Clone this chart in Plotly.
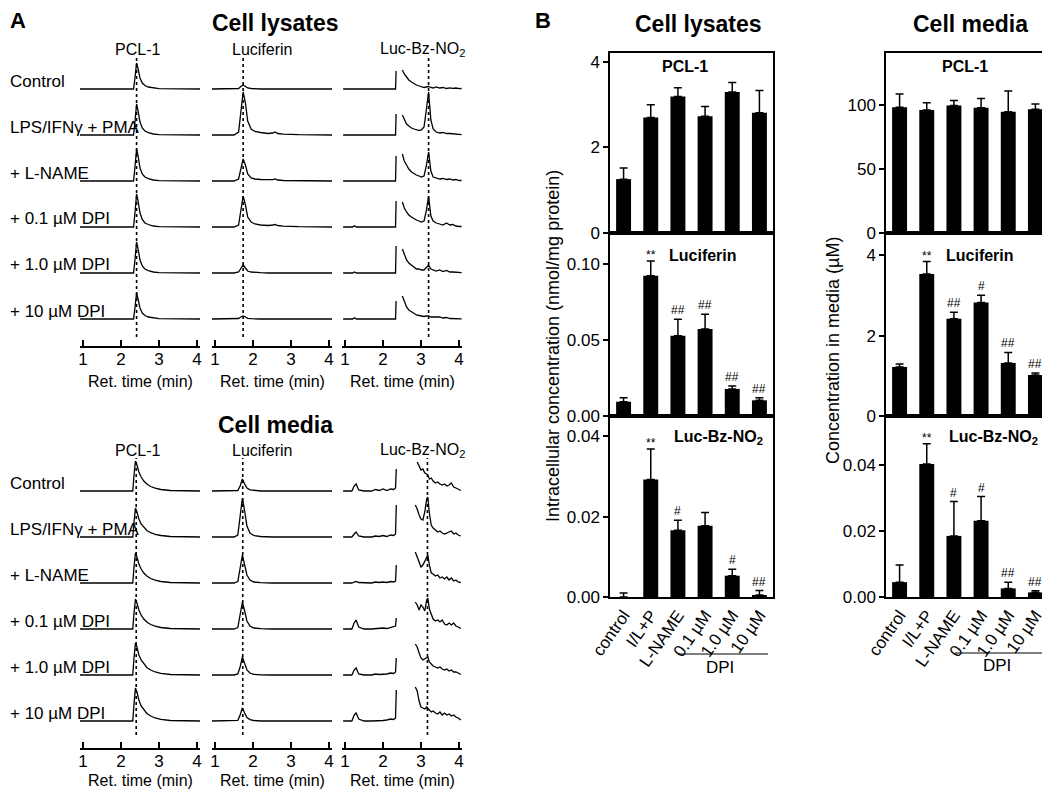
import plotly.graph_objects as go

W, H = 1050, 790
OX, OY = 8, 8  # page body margin offset
FONT = "Liberation Sans, Arial, sans-serif"

# ---------------- Panel A data (signal heights) ----------------
conditions = ["Control", "LPS/IFNγ + PMA", "+ L-NAME", "+ 0.1 µM DPI", "+ 1.0 µM DPI", "+ 10 µM DPI"]
analytes_A = ["PCL-1", "Luciferin", "Luc-Bz-NO<sub>2</sub>"]
time_ticks = [1, 2, 3, 4]
rt_lysates = [2.41, 1.74, 3.20]
rt_media = [2.40, 1.73, 3.17]

# Cell lysates - PCL-1
lys_pcl_t = [0.92, 2.0, 2.33, 2.37, 2.41, 2.45, 2.5, 2.56, 2.63, 2.72, 2.85, 3.0, 4.08]
lys_pcl = [
    [0, 0, 0, 12, 26, 20, 11, 6, 3.5, 2, 1, 0.3, 0],
    [0, 0, 0, 14, 31, 24, 13, 7, 4, 2.3, 1, 0.3, 0],
    [0, 0, 0, 15, 32, 25, 13, 7, 4, 2.3, 1, 0.3, 0],
    [0, 0, 0, 15, 33, 26, 14, 7.5, 4, 2.5, 1, 0.3, 0],
    [0, 0, 0, 14, 31, 24, 13, 7, 4, 2.3, 1, 0.3, 0],
    [0, 0, 0, 12, 26, 20, 11, 6, 3.5, 2, 1, 0.3, 0],
]
# Cell lysates - Luciferin
lys_luc_t = [0.92, 1.5, 1.62, 1.68, 1.74, 1.80, 1.86, 1.95, 2.05, 2.2, 2.4, 2.52, 2.58, 2.65, 2.8, 3.2, 3.6, 4.08]
lys_luc = [
    [0, 0, 0.5, 2.5, 4, 2.5, 1, 0.5, 0.2, 0, 0, 0.3, 0.6, 0.2, 0, 0, 0, 0],
    [0, 0, 3, 25, 43, 32, 14, 6, 3.5, 2.5, 1.5, 2, 3, 1.5, 0.8, 0.3, 0, 0],
    [0, 0, 2, 13, 22, 16, 7, 3, 2, 1.5, 1, 1.3, 2, 1, 0.5, 0.2, 0, 0],
    [0, 0, 2, 18, 31, 22, 10, 5, 3, 2, 1.5, 2, 2.5, 1.5, 0.8, 0.3, 0, 0],
    [0, 0, 1, 5, 8, 5, 2, 1, 0.5, 0.3, 0, 0.2, 0.4, 0.2, 0, 0, 0, 0],
    [0, 0, 0.5, 2, 3, 2, 0.7, 0.3, 0, 0, 0, 0.1, 0.2, 0, 0, 0, 0, 0],
]
# Cell lysates - Luc-Bz-NO2 (None = off-scale gap)
lys_bz_t = [0.95, 1.2, 1.25, 1.3, 2.0, 2.33, 2.345, None,
            2.51, 2.56, 2.62, 2.68, 2.75, 2.82, 2.88, 2.95, 3.01, 3.08, 3.14, 3.2,
            3.26, 3.32, 3.4, 3.49, 3.58, 3.67, 3.76, 3.84, 3.92, 4.0, 4.07]
lys_bz = [
    [0, 0, 0.7, 0, 0, 0, 18, None, 19, 15, 12, 9, 7, 5, 4, 3, 2, 1.5, 2, 2.5, 1.5, 1, 2, 1, 1.5, 0.5, 1.2, 0.6, 1, 0.3, 0.5],
    [0, 0, 0.3, 0, 0, 0, 21, None, 20, 15, 11, 9, 7, 6, 5, 4.5, 5, 8, 25, 43, 15, 6, 3, 2, 2.5, 1.5, 1.5, 1, 1, 0.5, 0.3],
    [0, 0, 0.7, 0, 0, 0, 25, None, 27, 20, 16, 12, 9, 7, 6, 5, 4, 5, 15, 29, 10, 4, 3, 2, 2.5, 1.5, 2, 1, 1.5, 0.5, 0.5],
    [0, 0, 1.2, 0, 0, 0, 26, None, 25, 19, 15, 12, 10, 8, 7, 6, 5, 6, 16, 31, 11, 6, 4, 3, 2, 4, 2, 2.5, 1, 0.5, 0.5],
    [0, 0, 1.0, 0, 0, 0, 27, None, 24, 18, 13, 10, 8, 6, 4, 4, 3, 3, 5, 8, 4, 3, 2, 3, 1.5, 2.5, 1, 1, 0.5, 0.5, 0.3],
    [0, 0, 1.2, 0, 0, 0, 18, None, 23, 17, 12, 9, 7, 5, 4, 3.5, 3, 2.5, 3, 3, 2, 2, 1.5, 2, 1, 1.5, 0.5, 0.5, 0.5, 0.3, 0.2],
]
# Cell media - PCL-1
med_pcl_t = [0.92, 2.0, 2.31, 2.34, 2.38, 2.42, 2.47, 2.53, 2.6, 2.68, 2.78, 2.9, 3.05, 3.3, 4.08]
med_pcl = [
    [0, 0, 0, 15, 30, 26, 19, 14, 10, 7, 4.5, 2.8, 1.5, 0.5, 0],
    [0, 0, 0, 14, 29, 25, 18, 13, 9.5, 6.5, 4.3, 2.7, 1.5, 0.5, 0],
    [0, 0, 0, 15, 30, 26, 19, 14, 10, 7, 4.5, 2.8, 1.5, 0.5, 0],
    [0, 0, 0, 15, 30, 26, 19, 14, 10, 7, 4.5, 2.8, 1.5, 0.5, 0],
    [0, 0, 0, 16, 32, 28, 20, 15, 11, 7.5, 5, 3, 1.6, 0.5, 0],
    [0, 0, 0, 16, 33, 29, 21, 15, 11, 7.5, 5, 3, 1.6, 0.5, 0],
]
# Cell media - Luciferin
med_luc_t = [0.92, 1.5, 1.6, 1.66, 1.72, 1.78, 1.84, 1.92, 2.02, 2.2, 2.5, 4.08]
med_luc = [
    [0, 0, 0.5, 5, 12, 7, 3, 1.2, 0.5, 0, 0, 0],
    [0, 0, 2, 18, 39, 26, 11, 4, 1.5, 0.5, 0, 0],
    [0, 0, 1.5, 13, 28, 18, 8, 3, 1, 0.3, 0, 0],
    [0, 0, 1.5, 13, 27, 18, 8, 3, 1, 0.3, 0, 0],
    [0, 0, 1, 8, 18, 12, 5, 2, 0.7, 0.2, 0, 0],
    [0, 0, 0.7, 6, 13, 8, 3.5, 1.4, 0.5, 0, 0, 0],
]
# Cell media - Luc-Bz-NO2 (None = off-scale gap)
med_bz_t = [0.95, 1.18, 1.24, 1.29, 1.36, 1.5, 1.7, 1.8, 1.9, 2.0, 2.1, 2.2, 2.28, 2.33, 2.35, None,
            2.85, 2.9, 2.95, 3.0, 3.05, 3.1, 3.15, 3.18, 3.22, 3.27, 3.32, 3.38, 3.44, 3.5, 3.56,
            3.62, 3.68, 3.74, 3.8, 3.86, 3.92, 3.98, 4.05]
med_bz = [
    [0, 0, 5, 7, 1, 0, 0, 1.5, 0.5, 2, 0.5, 2, 1.5, 3, 22, None,
     None, 29, 24, 21, 22, 18, 17, 16, 12, 13, 10, 8, 9, 7, 6, 7, 5, 6, 8, 4, 3, 2, 0.5],
    [0, 0, 3, 5, 1, 0, 0, 1, 0.5, 1.5, 0.5, 2, 1.5, 3, 32, None,
     32, 28, 22, 18, 17, 25, 38, 40, 24, 12, 9, 7, 5, 6, 4, 3, 4, 5, 6, 3, 4, 2, 1],
    [0, 0, 1, 1.5, 0.5, 0, 0, 1, 0.5, 1, 0.5, 1.5, 1, 2, 18, None,
     31, 26, 20, 16, 18, 22, 27, 28, 18, 10, 9, 7, 8, 5, 6, 4, 6, 3, 5, 2, 3, 1, 0.5],
    [0, 0, 6, 9, 2, 0, 0, 0.5, 0.5, 1, 0.5, 1.5, 2, 3, 11, None,
     27, 24, 19, 24, 22, 18, 29, 31, 20, 14, 10, 8, 9, 7, 9, 5, 4, 6, 4, 6, 3, 2, 0.5],
    [0, 0, 5, 7, 1, 0, 0, 1, 0.5, 0.5, 1, 2, 1.5, 3, 17, None,
     31, 28, 22, 17, 15, 16, 17, 18, 13, 11, 9, 8, 7, 8, 6, 5, 6, 4, 5, 3, 3, 2, 0.5],
    [0, 0, 6, 8, 2, 0, 0, 0, 0, 0.5, 1, 2, 1.5, 3, 31, None,
     34, 30, 20, 14, 13, 12, 14, 13, 11, 9, 10, 8, 7, 9, 6, 8, 6, 7, 5, 6, 4, 3, 1],
]

# ---------------- Panel B data ----------------
treatments = ["control", "I/L+P", "L-NAME", "0.1 µM", "1.0 µM", "10 µM"]
lys_pcl_mean = [1.26, 2.70, 3.19, 2.73, 3.30, 2.81]
lys_pcl_err = [1.52, 3.00, 3.40, 2.96, 3.52, 3.33]
lys_luc_mean = [0.0094, 0.0923, 0.0528, 0.0572, 0.0178, 0.0103]
lys_luc_err = [0.0120, 0.1020, 0.0637, 0.0670, 0.0197, 0.0120]
lys_bz_mean = [0.0, 0.0292, 0.0166, 0.0177, 0.0053, 0.0005]
lys_bz_err = [0.0010, 0.0368, 0.0191, 0.0210, 0.0069, 0.0016]
med_pcl_mean = [98.2, 96.1, 99.5, 97.9, 94.8, 96.6]
med_pcl_err = [108.6, 101.8, 103.4, 105.0, 111.0, 100.8]
med_luc_mean = [1.22, 3.53, 2.42, 2.82, 1.32, 1.02]
med_luc_err = [1.29, 3.84, 2.58, 3.00, 1.58, 1.07]
med_bz_mean = [0.0045, 0.0403, 0.0185, 0.0231, 0.0026, 0.0014]
med_bz_err = [0.0097, 0.0464, 0.0289, 0.0304, 0.0045, 0.0019]
sig_lys_luc = ["", "**", "##", "##", "##", "##"]
sig_lys_bz = ["", "**", "#", "", "#", "##"]
sig_med_luc = ["", "**", "##", "#", "##", "##"]
sig_med_bz = ["", "**", "#", "#", "##", "##"]


def px(x):
    return (x - OX) / W


def py(y):
    return 1 - (y - OY) / H


fig = go.Figure()
layout = dict(width=W, height=H, margin=dict(l=0, r=0, t=0, b=0, pad=0, autoexpand=False),
              template="none",
              paper_bgcolor="white", plot_bgcolor="rgba(0,0,0,0)", showlegend=False,
              font=dict(family=FONT, color="black"))
annotations = []
shapes = []


def ann(text, x, y, size=17, bold=False, xanchor="center", yanchor="middle", **kw):
    if bold:
        text = "<b>" + text + "</b>"
    d = dict(text=text, x=px(x), y=py(y), xref="paper", yref="paper", showarrow=False,
             font=dict(size=size, family=FONT, color="black"), xanchor=xanchor, yanchor=yanchor)
    d.update(kw)
    annotations.append(d)


# ---------------- Panel A ----------------
col_x = [(80, 200), (212, 332), (342, 462)]
groupsA = [
    dict(title="Cell lysates", title_y=23, lab_y=49, dom=(40, 346), base0=89, xt_y=381,
         data=[(lys_pcl_t, lys_pcl), (lys_luc_t, lys_luc), (lys_bz_t, lys_bz)], rt=rt_lysates,
         dot=(55, 337)),
    dict(title="Cell media", title_y=425, lab_y=450, dom=(440, 748), base0=491, xt_y=780,
         data=[(med_pcl_t, med_pcl), (med_luc_t, med_luc), (med_bz_t, med_bz)], rt=rt_media,
         dot=(458, 735)),
]
label_x = [137, 262, 422]
k = 0
for g in groupsA:
    top, bot = g["dom"]
    yr = bot - top
    ann(g["title"], 275, g["title_y"], size=23, bold=True)
    for ri, cond in enumerate(conditions):
        ann(cond, 8, g["base0"] + ri * 46 - 8, size=17, xanchor="left")
    for ci in range(3):
        k += 1
        xa, ya = "xaxis%d" % k, "yaxis%d" % k
        layout[xa] = dict(domain=[px(col_x[ci][0]), px(col_x[ci][1])], range=[0.92, 4.08],
                          anchor="y%d" % k, showline=True, linecolor="black", linewidth=1.5,
                          ticks="inside", ticklen=6, tickwidth=1.5, tickcolor="black",
                          ticklabelstandoff=-3,
                          tickvals=time_ticks, tickfont=dict(size=17, family=FONT),
                          showgrid=False, zeroline=False, fixedrange=True, automargin=False)
        layout[ya] = dict(domain=[py(bot), py(top)], range=[0, yr], anchor="x%d" % k,
                          visible=False, fixedrange=True, automargin=False)
        tgrid, rows = g["data"][ci]
        for ri, vals in enumerate(rows):
            base = bot - (g["base0"] + ri * 46)
            yv = [None if v is None else base + v for v in vals]
            fig.add_trace(go.Scatter(x=tgrid, y=yv, mode="lines", xaxis="x%d" % k, yaxis="y%d" % k,
                                     line=dict(color="black", width=1.3), hoverinfo="skip",
                                     connectgaps=False))
        shapes.append(dict(type="line", xref="x%d" % k, yref="y%d" % k,
                           x0=g["rt"][ci], x1=g["rt"][ci],
                           y0=bot - g["dot"][1], y1=bot - g["dot"][0],
                           line=dict(color="black", width=1.6, dash="dot")))
        ann(analytes_A[ci], label_x[ci], g["lab_y"], size=16)
        ann("Ret. time (min)", (col_x[ci][0] + col_x[ci][1]) / 2, g["xt_y"], size=16)

ann("A", 8, 21, size=22, bold=True, xanchor="left")

# ---------------- Panel B ----------------
b_cols = [(610, 773), (886, 1049)]
b_rows = [(53, 233), (233, 416), (416, 597)]
b_sets = [
    [(lys_pcl_mean, lys_pcl_err, [0, 4.21], [0, 2, 4], ["0", "2", "4"], None, "PCL-1", (685, 67)),
     (lys_luc_mean, lys_luc_err, [0, 0.1204], [0, 0.05, 0.10], ["0.00", "0.05", "0.10"], sig_lys_luc, "Luciferin", (703, 255)),
     (lys_bz_mean, lys_bz_err, [0, 0.045], [0, 0.02, 0.04], ["0.00", "0.02", "0.04"], sig_lys_bz, "Luc-Bz-NO<sub>2</sub>", (718, 437))],
    [(med_pcl_mean, med_pcl_err, [0, 140.6], [0, 50, 100], ["0", "50", "100"], None, "PCL-1", (965, 67)),
     (med_luc_mean, med_luc_err, [0, 4.55], [0, 2, 4], ["0", "2", "4"], sig_med_luc, "Luciferin", (980, 255)),
     (med_bz_mean, med_bz_err, [0, 0.0548], [0, 0.02, 0.04], ["0.00", "0.02", "0.04"], sig_med_bz, "Luc-Bz-NO<sub>2</sub>", (993, 437))],
]
for bc in range(2):
    for br in range(3):
        k += 1
        mean, err, yrng, tv, tt, sig, label, lpos = b_sets[bc][br]
        xa, ya = "xaxis%d" % k, "yaxis%d" % k
        layout[xa] = dict(domain=[px(b_cols[bc][0]), px(b_cols[bc][1])], anchor="y%d" % k,
                          type="category", categoryorder="array", categoryarray=treatments,
                          range=[-0.5, 5.5], showline=True, mirror=True, linecolor="black",
                          linewidth=1.5, ticks="", showgrid=False, zeroline=False,
                          showticklabels=(br == 2), tickangle=-55,
                          tickfont=dict(size=17, family=FONT), fixedrange=True, automargin=False)
        layout[ya] = dict(domain=[py(b_rows[br][1]), py(b_rows[br][0])], anchor="x%d" % k,
                          range=yrng, showline=True, mirror=True, linecolor="black", linewidth=1.5,
                          ticks="outside", ticklen=5, tickwidth=1.5, tickcolor="black",
                          tickvals=tv, ticktext=tt, tickfont=dict(size=17, family=FONT),
                          showgrid=False, zeroline=False, fixedrange=True, automargin=False)
        fig.add_trace(go.Bar(x=treatments, y=mean, xaxis="x%d" % k, yaxis="y%d" % k,
                             marker=dict(color="black", line=dict(width=0)), width=0.55,
                             error_y=dict(type="data", symmetric=False,
                                          array=[e - m for e, m in zip(err, mean)],
                                          arrayminus=[0] * len(mean), color="black",
                                          thickness=1.5, width=4),
                             hoverinfo="skip"))
        ann(label, lpos[0], lpos[1], size=16, bold=True)
        if sig:
            for cat, s, e in zip(treatments, sig, err):
                if s:
                    annotations.append(dict(text=s, x=cat, y=e, xref="x%d" % k, yref="y%d" % k,
                                            showarrow=False, yanchor="bottom",
                                            yshift=(-3 if s == "**" else 0),
                                            font=dict(size=12, family=FONT, color="black")))

ann("B", 533, 21, size=22, bold=True, xanchor="left")
ann("Cell lysates", 698, 24, size=23, bold=True)
ann("Cell media", 970, 24, size=23, bold=True)
ann("Intracellular concentration (nmol/mg protein)", 553, 346, size=18, textangle=-90)
ann("Concentration in media (µM)", 833, 351, size=18, textangle=-90)

# DPI brackets
shapes.append(dict(type="line", xref="paper", yref="paper", x0=px(678), x1=px(768), y0=py(654), y1=py(654),
                   line=dict(color="black", width=1.2)))
shapes.append(dict(type="line", xref="paper", yref="paper", x0=px(955), x1=px(1043), y0=py(653), y1=py(653),
                   line=dict(color="black", width=1.2)))
ann("DPI", 720, 667, size=17)
ann("DPI", 997, 665, size=17)

layout["annotations"] = annotations
layout["shapes"] = shapes
fig.update_layout(**layout)
fig.write_html("out.html")
